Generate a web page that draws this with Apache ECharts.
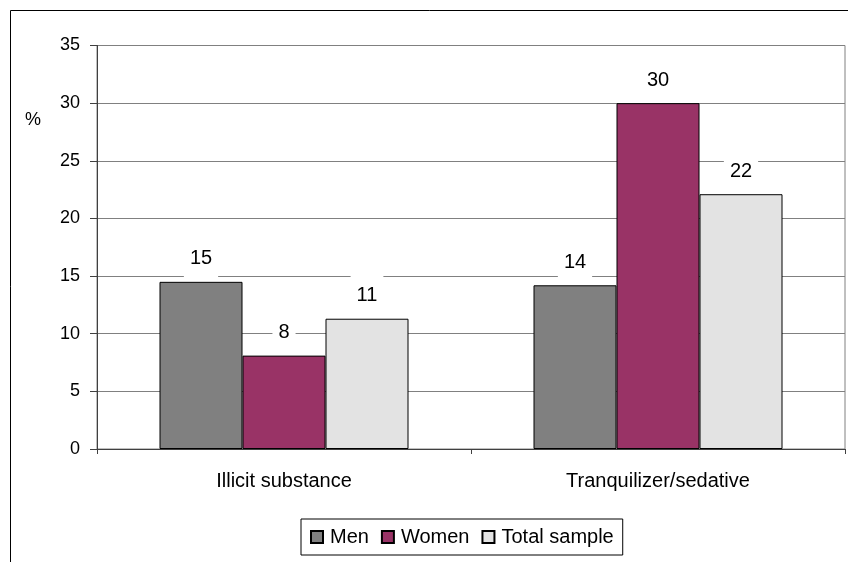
<!DOCTYPE html>
<html>
<head>
<meta charset="utf-8">
<script src="https://cdn.jsdelivr.net/npm/echarts@6/dist/echarts.min.js"></script>
<style>
html,body{margin:0;padding:0;background:#fff;}
#chart{width:848px;height:562px;}
</style>
</head>
<body>
<div id="chart"></div>
<script>
const categories = ['Illicit substance', 'Tranquilizer/sedative'];
const seriesNames = ['Men', 'Women', 'Total sample'];
const menValues = [14.5, 14.2];
const womenValues = [8.1, 30.0];
const totalValues = [11.3, 22.1];
const yTicks = { min: 0, max: 35, interval: 5 };
const yAxisName = '%';

const FONT = '"Liberation Sans", Arial, sans-serif';
const colors = ['#808080', '#993366', '#e3e3e3'];
const valueSets = [menValues, womenValues, totalValues];

const chart = echarts.init(document.getElementById('chart'), null, { renderer: 'canvas' });

const series = seriesNames.map((name, i) => ({
  name: name,
  type: 'bar',
  data: valueSets[i],
  barWidth: 83,
  barGap: '0%',
  itemStyle: { color: colors[i], borderColor: '#000', borderWidth: 1 },
  label: {
    show: true,
    position: 'top',
    distance: 2,
    formatter: p => String(Math.round(p.value)),
    color: '#000',
    fontFamily: FONT,
    fontSize: 20,
    lineHeight: 20,
    backgroundColor: '#fff',
    padding: [10, 6, 11, 6]
  },
  emphasis: { disabled: true }
}));

chart.setOption({
  animation: false,
  backgroundColor: '#fff',
  textStyle: { fontFamily: FONT },
  grid: {
    left: 97, right: 3, top: 45.5, bottom: 113,
    show: true, borderColor: '#808080', borderWidth: 1, backgroundColor: '#fff'
  },
  legend: {
    data: seriesNames,
    left: 301, top: 519,
    orient: 'horizontal',
    icon: 'rect',
    itemWidth: 12, itemHeight: 12,
    itemGap: 12,
    padding: [8, 9],
    borderColor: '#000', borderWidth: 1,
    textStyle: { color: '#000', fontSize: 20, lineHeight: 20, fontFamily: FONT, padding: [0, 0, 0, 2] }
  },
  xAxis: {
    type: 'category',
    data: categories,
    axisLine: { show: true, lineStyle: { color: '#404040', width: 1 } },
    axisTick: { show: true, length: 5, lineStyle: { color: '#404040' } },
    axisLabel: { color: '#000', fontSize: 20, fontFamily: FONT, margin: 22 },
    splitLine: { show: false }
  },
  yAxis: {
    type: 'value',
    min: yTicks.min, max: yTicks.max, interval: yTicks.interval,
    axisLine: { show: true, lineStyle: { color: '#404040', width: 1 } },
    axisTick: { show: true, length: 7, lineStyle: { color: '#404040' } },
    axisLabel: { color: '#000', fontSize: 18, fontFamily: FONT, margin: 17 },
    splitLine: { show: true, lineStyle: { color: '#808080', width: 1 } }
  },
  graphic: [
    { type: 'rect', shape: { x: 10.5, y: 10.5, width: 900, height: 600 },
      style: { fill: 'none', stroke: '#000', lineWidth: 1 }, silent: true, z: -1 },
    { type: 'text', left: 25, top: 111,
      style: { text: yAxisName, fill: '#000', font: '18px ' + FONT } }
  ],
  series: series
});
</script>
</body>
</html>
